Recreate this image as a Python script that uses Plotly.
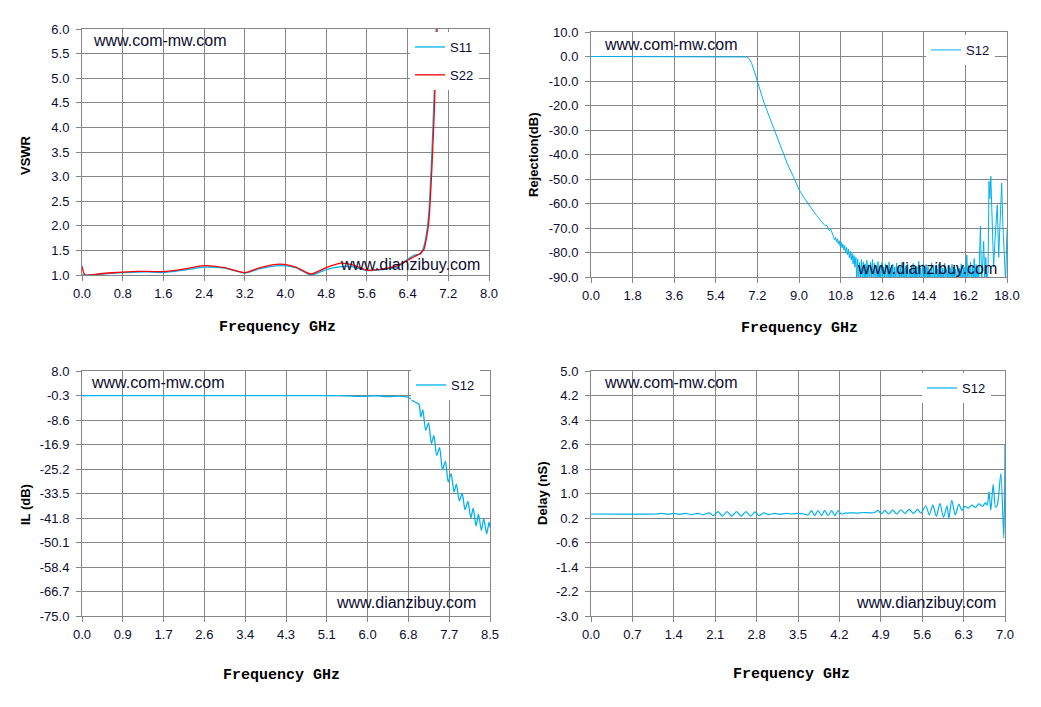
import plotly.graph_objects as go

# ---------------- data ----------------
# VSWR (top left)
vswr_freq = [0.0, 0.06, 0.4, 0.8, 1.1, 1.4, 1.6, 2.0, 2.4, 2.8, 3.2, 3.5, 3.9, 4.2, 4.5,
             4.8, 5.1, 5.3, 5.6, 5.9, 6.2, 6.4, 6.55, 6.65, 6.72, 6.78, 6.82, 6.86, 6.89,
             6.92, 6.94, 6.96, 6.98, 7.0]
vswr_s11 = [1.0, 1.0, 1.02, 1.05, 1.06, 1.06, 1.05, 1.10, 1.16, 1.14, 1.04, 1.13, 1.19, 1.15,
            1.00, 1.11, 1.17, 1.17, 1.09, 1.11, 1.16, 1.32, 1.41, 1.42, 1.58, 1.90, 2.30, 3.10,
            3.80, 4.60, 5.30, 6.00, 6.70, 7.30]
vswr_s22 = [1.18, 1.0, 1.03, 1.06, 1.075, 1.07, 1.07, 1.12, 1.19, 1.15, 1.05, 1.15, 1.22, 1.16,
            1.02, 1.15, 1.24, 1.21, 1.10, 1.12, 1.19, 1.30, 1.38, 1.44, 1.52, 1.80, 2.12, 2.80,
            3.47, 4.20, 4.83, 5.40, 6.00, 6.60]
vswr_xticks = [0.0, 0.8, 1.6, 2.4, 3.2, 4.0, 4.8, 5.6, 6.4, 7.2, 8.0]
vswr_yticks = [1.0, 1.5, 2.0, 2.5, 3.0, 3.5, 4.0, 4.5, 5.0, 5.5, 6.0]

# Rejection (top right): roll-off, noise floor, spurs near 18 GHz
rej_freq = [0.0, 6.6, 6.75, 6.85, 6.95, 7.05, 7.15, 7.2, 7.3, 7.45, 7.6, 7.75, 7.9, 8.1, 8.3,
            8.5, 8.75, 9.0, 9.25, 9.5, 9.75, 10.0, 10.12, 10.2, 10.3, 10.38, 10.46,
            10.50, 10.54, 10.58, 10.62, 10.66, 10.70, 10.74, 10.78, 10.82, 10.86, 10.90, 10.94,
            10.98, 11.02, 11.06, 11.10, 11.14, 11.18, 11.22, 11.26, 11.30, 11.34, 11.38, 11.42,
            11.46]
rej_db = [0.0, 0.0, -0.2, -1.0, -2.8, -5.5, -8.5, -10.8, -13.8, -17.8, -21.7, -25.3, -28.9,
          -33.8, -39.2, -43.9, -48.9, -54.3, -58.1, -61.7, -64.8, -67.6, -69.0, -68.8, -71.0,
          -70.6, -72.6,
          -73.5, -74.8, -73.9, -75.6, -74.4, -76.5, -75.2, -77.4, -75.8, -78.1, -76.6, -79.0,
          -77.2, -80.1, -78.0, -81.0, -78.6, -82.2, -79.5, -83.0, -80.4, -84.6, -81.2, -86.0,
          -82.0]
rej_floor_freq = [
    11.50, 11.54, 11.58, 11.62, 11.66, 11.70, 11.74, 11.78, 11.82, 11.86,
    11.90, 11.94, 11.98, 12.02, 12.06, 12.10, 12.14, 12.18, 12.22, 12.26,
    12.30, 12.34, 12.38, 12.42, 12.46, 12.50, 12.54, 12.58, 12.62, 12.66,
    12.70, 12.74, 12.78, 12.82, 12.86, 12.90, 12.94, 12.98, 13.02, 13.06,
    13.10, 13.14, 13.18, 13.22, 13.26, 13.30, 13.34, 13.38, 13.42, 13.46,
    13.50, 13.54, 13.58, 13.62, 13.66, 13.70, 13.74, 13.78, 13.82, 13.86,
    13.90, 13.94, 13.98, 14.02, 14.06, 14.10, 14.14, 14.18, 14.22, 14.26,
    14.30, 14.34, 14.38, 14.42, 14.46, 14.50, 14.54, 14.58, 14.62, 14.66,
    14.70, 14.74, 14.78, 14.82, 14.86, 14.90, 14.94, 14.98, 15.02, 15.06,
    15.10, 15.14, 15.18, 15.22, 15.26, 15.30, 15.34, 15.38, 15.42, 15.46,
    15.50, 15.54, 15.58, 15.62, 15.66, 15.70, 15.74, 15.78, 15.82, 15.86,
    15.90, 15.94, 15.98, 16.02, 16.06, 16.10, 16.14, 16.18, 16.22, 16.26,
    16.30, 16.34, 16.38, 16.42, 16.46, 16.50, 16.54, 16.58, 16.62, 16.66,
    16.70, 16.74]
rej_floor_db = [
    -91.0, -82.6, -93.0, -84.1, -90.5, -82.9, -94.0, -83.8, -91.5, -84.6,
    -92.5, -83.2, -90.8, -85.0, -93.5, -83.9, -91.2, -82.8, -94.2, -84.4,
    -92.0, -85.3, -90.6, -83.7, -93.8, -85.8, -91.4, -84.2, -92.7, -86.0,
    -90.9, -84.6, -94.1, -85.5, -91.8, -83.9, -93.2, -86.3, -90.7, -84.8,
    -92.9, -85.9, -91.3, -84.3, -94.4, -86.5, -90.8, -85.1, -93.0, -84.0,
    -91.6, -86.2, -92.8, -85.4, -90.5, -84.7, -94.0, -86.8, -91.9, -85.2,
    -93.3, -84.5, -90.9, -86.1, -92.4, -85.6, -94.6, -83.6, -91.1, -86.4,
    -92.6, -85.0, -90.6, -86.7, -93.9, -84.9, -91.7, -85.8, -92.2, -86.9,
    -90.8, -84.2, -93.6, -86.0, -91.4, -85.3, -94.3, -86.6, -92.0, -84.7,
    -90.7, -85.7, -93.1, -86.3, -91.9, -84.4, -92.9, -87.0, -90.9, -85.6,
    -94.1, -86.2, -91.5, -84.8, -92.7, -85.9, -90.6, -86.8, -93.4, -85.1,
    -91.2, -86.4, -92.5, -84.6, -94.0, -85.5, -91.0, -86.1, -92.8, -81.0,
    -90.9, -85.3, -93.3, -83.9, -91.6, -86.0, -92.1, -82.5, -94.5, -84.9,
    -91.3, -85.5]
rej_spur_freq = [16.78, 16.85, 16.90, 16.95, 16.99, 17.04, 17.08, 17.12, 17.18, 17.22, 17.26,
                 17.30, 17.36, 17.42, 17.48, 17.54, 17.58, 17.64, 17.70, 17.77, 17.82, 17.88,
                 17.94, 18.00]
rej_spur_db = [-92.0, -69.3, -93.0, -84.0, -75.5, -92.0, -82.0, -91.0, -88.0, -51.0, -58.0,
               -48.9, -71.6, -86.0, -75.0, -64.6, -60.6, -82.0, -66.0, -51.6, -68.6, -81.0,
               -92.0, -70.7]
rej_xticks = [0.0, 1.8, 3.6, 5.4, 7.2, 9.0, 10.8, 12.6, 14.4, 16.2, 18.0]
rej_yticks = [10.0, 0.0, -10.0, -20.0, -30.0, -40.0, -50.0, -60.0, -70.0, -80.0, -90.0]

# Insertion loss (bottom left)
il_freq = [0.0, 1.0, 2.0, 3.0, 4.0, 5.0, 5.5, 5.8, 6.1, 6.4, 6.6, 6.8, 6.93, 6.98, 7.02, 7.06,
           7.10, 7.16, 7.22, 7.28, 7.33, 7.39, 7.45, 7.51, 7.57, 7.63, 7.69, 7.75, 7.80, 7.86,
           7.92, 7.98, 8.04, 8.10, 8.15, 8.21, 8.26, 8.32, 8.37, 8.43, 8.48, 8.50]
il_db = [-0.32, -0.31, -0.32, -0.31, -0.32, -0.35, -0.4, -0.6, -0.4, -0.7, -0.5, -0.9, -2.5,
         -2.8, -3.2, -7.6, -5.1, -12.1, -9.6, -16.6, -13.8, -20.6, -18.0, -25.4, -22.6, -29.6,
         -26.8, -33.0, -30.3, -36.0, -33.5, -39.0, -36.2, -41.8, -38.5, -44.5, -40.5, -46.0,
         -42.0, -47.2, -43.2, -45.0]
il_xticks = [0.0, 0.85, 1.7, 2.55, 3.4, 4.25, 5.1, 5.95, 6.8, 7.65, 8.5]
il_xlabels = ['0.0', '0.9', '1.7', '2.6', '3.4', '4.3', '5.1', '6.0', '6.8', '7.7', '8.5']
il_yticks = [8.0, -0.3, -8.6, -16.9, -25.2, -33.5, -41.8, -50.1, -58.4, -66.7, -75.0]

# Group delay (bottom right)
dly_freq = [0.0, 1.1, 1.2, 1.3, 1.4, 1.5, 1.6, 1.7, 1.8, 1.9, 2.0, 2.07, 2.15, 2.22, 2.30, 2.38,
            2.46, 2.54, 2.62, 2.70, 2.77, 2.84, 2.92, 3.0, 3.1, 3.2, 3.3, 3.4, 3.5, 3.6, 3.67,
            3.73, 3.78, 3.84, 3.90, 3.95, 4.01, 4.07, 4.12, 4.18, 4.23, 4.3, 4.4, 4.5, 4.6, 4.7,
            4.8, 4.85, 4.91, 4.97, 5.03, 5.10, 5.17, 5.24, 5.31, 5.38, 5.45, 5.52, 5.58, 5.66,
            5.72, 5.78, 5.84, 5.90, 5.96, 6.02, 6.05, 6.10, 6.16, 6.22, 6.27, 6.32, 6.38, 6.44,
            6.50, 6.56, 6.62, 6.67, 6.70, 6.73, 6.76, 6.80, 6.84, 6.87, 6.93, 6.98, 7.00]
dly_ns = [0.33, 0.33, 0.35, 0.32, 0.35, 0.32, 0.35, 0.31, 0.35, 0.31, 0.37, 0.28, 0.41, 0.26,
          0.41, 0.26, 0.41, 0.26, 0.41, 0.26, 0.40, 0.28, 0.37, 0.31, 0.35, 0.32, 0.35, 0.33,
          0.35, 0.33, 0.30, 0.44, 0.28, 0.44, 0.28, 0.45, 0.28, 0.44, 0.28, 0.44, 0.33, 0.36,
          0.37, 0.36, 0.38, 0.37, 0.38, 0.45, 0.34, 0.45, 0.33, 0.46, 0.33, 0.47, 0.35, 0.48,
          0.35, 0.48, 0.36, 0.60, 0.30, 0.62, 0.25, 0.68, 0.22, 0.60, 0.18, 0.78, 0.30, 0.65,
          0.45, 0.58, 0.52, 0.62, 0.55, 0.66, 0.58, 0.70, 0.62, 1.05, 0.45, 1.30, 0.55, 0.62,
          1.65, -0.45, 2.60]
dly_xticks = [0.0, 0.7, 1.4, 2.1, 2.8, 3.5, 4.2, 4.9, 5.6, 6.3, 7.0]
dly_yticks = [5.0, 4.2, 3.4, 2.6, 1.8, 1.0, 0.2, -0.6, -1.4, -2.2, -3.0]

# ---------------- figure ----------------
# the page body keeps its default 8px margin, so the figure is 8px smaller on each side
# and every position below is given in window pixels
OFF = 8
W, H = 1041 - OFF, 707 - OFF
BLUE = '#00B0F0'
RED = '#FF0000'
GRID = '#868686'
TXT = '#0c0c30'


def px(x):
    return (x - OFF) / W


def py(y):
    return 1 - (y - OFF) / H


def axis(domain, rng, ticks, labels=None, standoff=4, anchor=None):
    # plain hyphen for negatives, like the original labels
    if labels is None:
        labels = ['%.1f' % v for v in ticks]
    return dict(domain=domain, range=rng, tickvals=ticks, ticktext=labels, automargin=False,
                showgrid=True, gridcolor=GRID, gridwidth=1, zeroline=False,
                showline=True, linecolor=GRID, linewidth=1, mirror=True,
                ticks='outside', ticklen=5, tickcolor=GRID, ticklabelstandoff=standoff,
                tickfont=dict(family='Liberation Sans', size=13, color=TXT),
                anchor=anchor, fixedrange=True)


fig = go.Figure()

fig.add_trace(go.Scatter(x=vswr_freq, y=vswr_s11, name='S11', mode='lines',
                         line=dict(color=BLUE, width=1.3, shape='spline', smoothing=0.6),
                         xaxis='x', yaxis='y', legend='legend', legendgroup='a'))
fig.add_trace(go.Scatter(x=vswr_freq, y=vswr_s22, name='S22', mode='lines',
                         line=dict(color=RED, width=1.3, shape='spline', smoothing=0.6),
                         xaxis='x', yaxis='y', legend='legend', legendgroup='b'))
fig.add_trace(go.Scatter(x=rej_freq + rej_floor_freq + rej_spur_freq,
                         y=rej_db + rej_floor_db + rej_spur_db, name='S12', mode='lines',
                         line=dict(color=BLUE, width=1.0),
                         xaxis='x2', yaxis='y2', legend='legend2'))
fig.add_trace(go.Scatter(x=il_freq, y=il_db, name='S12', mode='lines',
                         line=dict(color=BLUE, width=1.3, shape='spline', smoothing=0.7),
                         xaxis='x3', yaxis='y3', legend='legend3'))
fig.add_trace(go.Scatter(x=dly_freq, y=dly_ns, name='S12', mode='lines',
                         line=dict(color=BLUE, width=1.2, shape='spline', smoothing=0.7),
                         xaxis='x4', yaxis='y4', legend='legend4'))

leg_font = dict(family='Liberation Sans', size=13, color=TXT)


def legend(x, y, gap=10):
    return dict(x=px(x), y=py(y), xanchor='left', yanchor='top', bgcolor='white',
                borderwidth=0, font=leg_font, tracegroupgap=gap, traceorder='grouped')


fig.update_layout(
    width=W, height=H, autosize=False,
    margin=dict(l=0, r=0, t=0, b=0, autoexpand=False),
    paper_bgcolor='white', plot_bgcolor='white',
    showlegend=True,
    xaxis=axis([px(82), px(489)], [0, 8], vswr_xticks, standoff=1, anchor='y'),
    yaxis=axis([py(275), py(29)], [1, 6], vswr_yticks, anchor='x'),
    xaxis2=axis([px(591), px(1007)], [0, 18], rej_xticks, standoff=1, anchor='y2'),
    yaxis2=axis([py(277), py(32)], [-90, 10], rej_yticks, anchor='x2'),
    xaxis3=axis([px(82), px(490)], [0, 8.5], il_xticks, il_xlabels, standoff=1, anchor='y3'),
    yaxis3=axis([py(616), py(371)], [-75, 8], il_yticks, anchor='x3'),
    xaxis4=axis([px(591), px(1005)], [0, 7], dly_xticks, standoff=1, anchor='y4'),
    yaxis4=axis([py(616), py(371)], [-3, 5], dly_yticks, anchor='x4'),
    legend=legend(410, 32, gap=8),
    legend2=legend(926, 35),
    legend3=legend(411, 370),
    legend4=legend(922, 373),
)

ann = []
wm_font = dict(family='Liberation Sans', size=16, color=TXT)
for x, y in [(91, 41), (602, 44), (89, 382), (602, 382)]:
    ann.append(dict(text='www.com-mw.com', x=px(x), y=py(y), xref='paper', yref='paper',
                    xanchor='left', yanchor='middle', showarrow=False, font=wm_font))
for x, y in [(338, 264), (855, 268), (334, 602), (854, 602)]:
    ann.append(dict(text='www.dianzibuy.com', x=px(x), y=py(y), xref='paper', yref='paper',
                    xanchor='left', yanchor='middle', showarrow=False, font=wm_font))

xt_font = dict(family='Liberation Mono', size=15, color='black')
for x, y in [(277, 327), (799, 329), (281, 675), (791, 674)]:
    ann.append(dict(text='<b>Frequency GHz</b>', x=px(x), y=py(y), xref='paper', yref='paper',
                    xanchor='center', yanchor='middle', showarrow=False, font=xt_font))

yt_font = dict(family='Liberation Sans', size=13, color='black')
for text, x, y in [('VSWR', 25, 155), ('Rejection(dB)', 533, 155),
                   ('IL (dB)', 25, 505), ('Delay (nS)', 542, 493)]:
    ann.append(dict(text='<b>%s</b>' % text, x=px(x), y=py(y), xref='paper', yref='paper',
                    xanchor='center', yanchor='middle', textangle=-90, showarrow=False,
                    font=yt_font))

fig.update_layout(annotations=ann)

fig.write_html('out.html')
